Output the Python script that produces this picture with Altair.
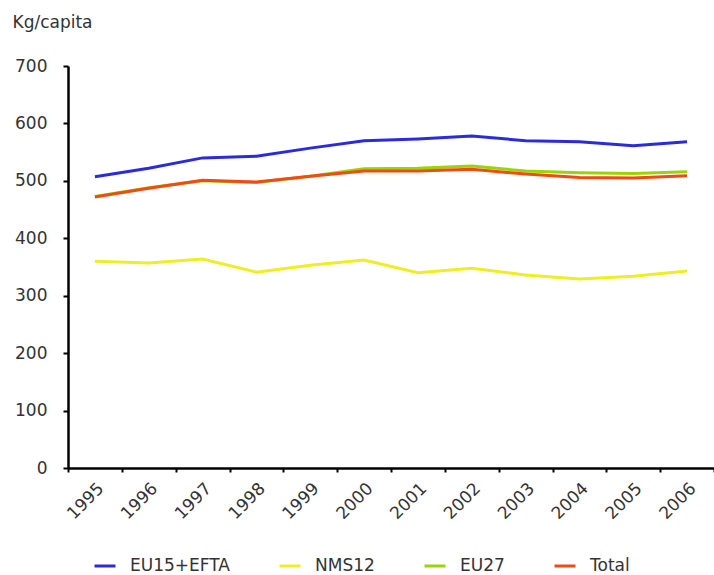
import altair as alt
import pandas as pd

years = ["1995", "1996", "1997", "1998", "1999", "2000", "2001", "2002", "2003", "2004", "2005", "2006"]
series_names = ["EU15+EFTA", "NMS12", "EU27", "Total"]
eu15_efta = [507, 522, 540, 543, 557, 570, 573, 578, 570, 568, 561, 568]
nms12 = [360, 357, 364, 341, 353, 362, 340, 348, 336, 329, 334, 343]
eu27 = [473, 488, 500, 497, 508, 521, 522, 526, 517, 514, 513, 516]
total = [472, 487, 501, 498, 508, 517, 517, 520, 512, 506, 505, 509]
colors = ["#2b2bdd", "#eeee22", "#99d600", "#f24a12"]

rows = []
for name, vals in zip(series_names, [eu15_efta, nms12, eu27, total]):
    for y, v in zip(years, vals):
        rows.append({"year": y, "value": v, "series": name})
df = pd.DataFrame(rows)

font = "DejaVu Sans"

chart = alt.Chart(df).mark_line(strokeWidth=3).encode(
    x=alt.X("year:O", bandPosition=0.5,
            scale=alt.Scale(type="band", paddingInner=0, paddingOuter=0, domain=years),
            axis=alt.Axis(title=None, labelAngle=-45, labelAlign="right", labelBaseline="top",
                          labelFont=font, labelFontSize=17, labelColor="#333333",
                          labelPadding=8, tickBand="extent", tickSize=4, tickWidth=2,
                          tickColor="black", domainColor="black", domainWidth=2.5,
                          grid=False)),
    y=alt.Y("value:Q", scale=alt.Scale(domain=[0, 700], nice=False),
            axis=alt.Axis(values=[0, 100, 200, 300, 400, 500, 600, 700], title="Kg/capita",
                          titleAngle=0, titleAlign="left", titleBaseline="middle",
                          titleX=-56, titleY=-44, titleFont=font, titleFontSize=17,
                          titleFontWeight="normal", titleColor="#333333",
                          labelFont=font, labelFontSize=17, labelColor="#333333",
                          labelPadding=16, tickSize=5, tickWidth=2, tickColor="black",
                          domainColor="black", domainWidth=2.5, grid=False)),
    color=alt.Color("series:N", sort=series_names,
                    scale=alt.Scale(domain=series_names, range=colors),
                    legend=alt.Legend(title=None, orient="none", direction="horizontal",
                                      legendX=25, legendY=488, symbolType="stroke",
                                      symbolSize=441, symbolStrokeWidth=3,
                                      labelFont=font, labelFontSize=17, labelColor="#333333",
                                      labelOffset=13, columnPadding=43, padding=0)),
).properties(
    width=646, height=402,
    autosize=alt.AutoSizeParams(type="none"),
    padding={"left": 68, "top": 66, "right": 0, "bottom": 107},
    background="white",
).configure_view(stroke=None)

chart.save("out.html", embed_options={"renderer": "svg", "actions": False})
